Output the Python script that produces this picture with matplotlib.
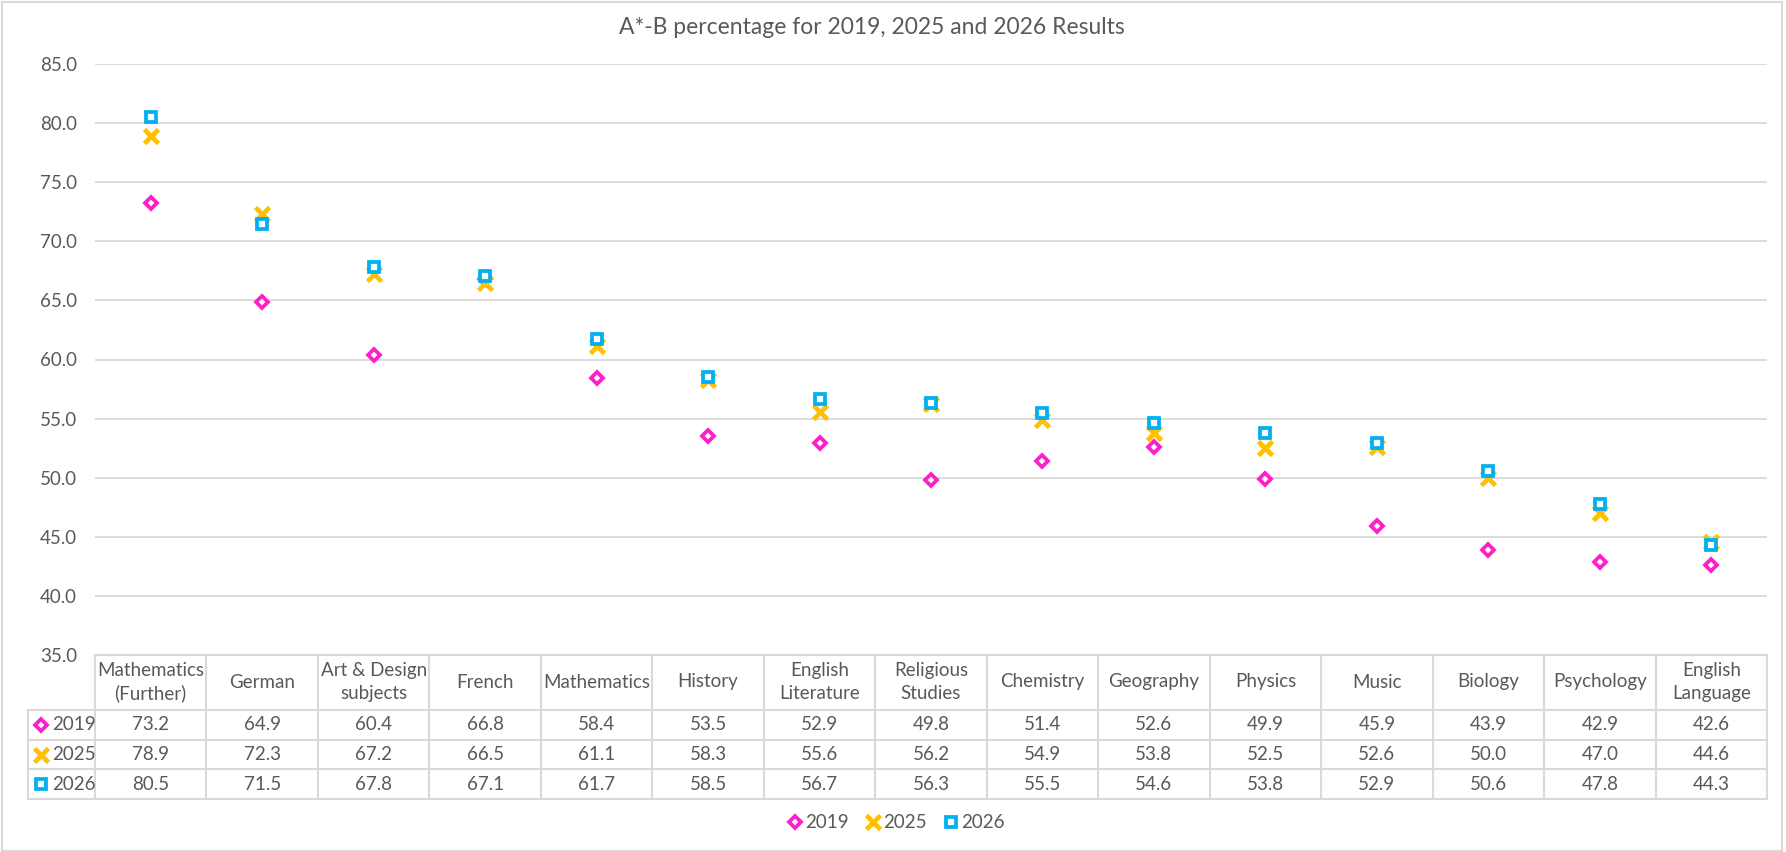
import numpy as np
import matplotlib
matplotlib.use("Agg")
import matplotlib.pyplot as plt
from matplotlib.lines import Line2D
from matplotlib.patches import Rectangle
from matplotlib.transforms import blended_transform_factory

subjects = ["Mathematics\n(Further)", "German", "Art & Design\nsubjects", "French",
            "Mathematics", "History", "English\nLiterature", "Religious\nStudies",
            "Chemistry", "Geography", "Physics", "Music", "Biology", "Psychology",
            "English\nLanguage"]
y2019 = [73.2, 64.9, 60.4, 66.8, 58.4, 53.5, 52.9, 49.8, 51.4, 52.6, 49.9, 45.9, 43.9, 42.9, 42.6]
y2025 = [78.9, 72.3, 67.2, 66.5, 61.1, 58.3, 55.6, 56.2, 54.9, 53.8, 52.5, 52.6, 50.0, 47.0, 44.6]
y2026 = [80.5, 71.5, 67.8, 67.1, 61.7, 58.5, 56.7, 56.3, 55.5, 54.6, 53.8, 52.9, 50.6, 47.8, 44.3]
series_names = ["2019", "2025", "2026"]
y_ticks = [35, 40, 45, 50, 55, 60, 65, 70, 75, 80, 85]

W, H = 1786, 852
TXT = "#595959"
GRID = "#d9d9d9"
styles = [
    dict(marker="D", ms=6.2, mew=2.7, mfc="white", mec="#FF1FC8", ls="none"),
    dict(marker="x", ms=10.5, mew=3.4, color="#FFC000", ls="none"),
    dict(marker="s", ms=7.2, mew=2.7, mfc="white", mec="#00B0F0", ls="none"),
]

plt.rcParams["font.family"] = ["Lato", "DejaVu Sans"]

fig = plt.figure(figsize=(W / 100, H / 100), dpi=100)


def fx(x):
    return x / W


def fy(y):
    return 1 - y / H


# plot area in pixel terms
left, right, top, bottom = 95, 1767, 64, 655
ax = fig.add_axes([fx(left), fy(bottom), fx(right - left), (bottom - top) / H])
x = np.arange(len(subjects))
for vals, st, name in zip([y2019, y2025, y2026], styles, series_names):
    ax.plot(x, vals, label=name, **st, zorder=3)
ax.set_xlim(-0.5, len(subjects) - 0.5)
ax.set_ylim(35, 85)
ax.set_yticks(y_ticks)
ax.set_yticklabels([f"{t:.1f}" for t in y_ticks])
ax.tick_params(axis="y", length=0, pad=13, labelsize=13.5, labelcolor=TXT)
ax.set_xticks([])
for s in ax.spines.values():
    s.set_visible(False)
ax.grid(axis="y", color=GRID, lw=1.3)
ax.set_axisbelow(True)

fig.text(fx(872), fy(28), "A*-B percentage for 2019, 2025 and 2026 Results",
         ha="center", va="center", fontsize=16.5, color=TXT)

# data table below the axis
tr = blended_transform_factory(ax.transData, fig.transFigure)
rows_y = [655, 710, 740, 769, 799]
for i, yy in enumerate(rows_y):
    xs = fx(left) if i == 0 else fx(28)
    fig.add_artist(Line2D([xs, fx(right)], [fy(yy), fy(yy)], color=GRID, lw=1.5))
for k in range(len(subjects) + 1):
    fig.add_artist(Line2D([k - 0.5, k - 0.5], [fy(655), fy(799)], color=GRID, lw=1.5,
                          transform=tr))
fig.add_artist(Line2D([fx(28), fx(28)], [fy(710), fy(799)], color=GRID, lw=1.5))

for i, name in enumerate(subjects):
    fig.text(i, fy(682), name, transform=tr, ha="center", va="center",
             fontsize=13.5, color=TXT, linespacing=1.4)
for r, (vals, st, name) in enumerate(zip([y2019, y2025, y2026], styles, series_names)):
    yc = (rows_y[r + 1] + rows_y[r + 2]) / 2
    for i, v in enumerate(vals):
        fig.text(i, fy(yc), f"{v:.1f}", transform=tr, ha="center", va="center",
                 fontsize=13.5, color=TXT)
    fig.add_artist(Line2D([fx(41)], [fy(yc)], **st))
    fig.text(fx(52), fy(yc), name, ha="left", va="center", fontsize=13.5, color=TXT)

leg = fig.legend(loc="center", bbox_to_anchor=(fx(896), fy(823)), ncol=3, frameon=False,
                 fontsize=13.5, handlelength=0.8, handletextpad=0.15, columnspacing=0.9,
                 labelcolor=TXT)

fig.add_artist(Rectangle((fx(2), fy(851)), fx(1780), (850 - 1) / H, fill=False,
                         edgecolor=GRID, lw=1.5, transform=fig.transFigure))

fig.savefig("out.png", dpi=100, facecolor="white")
